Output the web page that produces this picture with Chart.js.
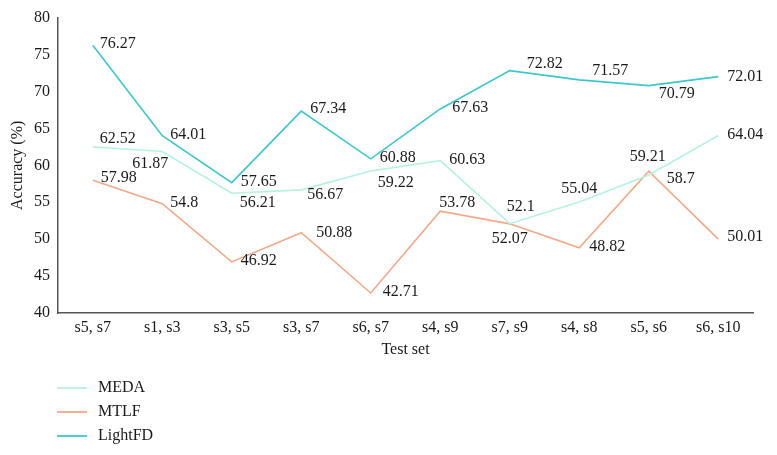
<!DOCTYPE html>
<html>
<head>
<meta charset="utf-8">
<script src="https://cdn.jsdelivr.net/npm/chart.js@4"></script>
<style>
  html, body { margin: 0; padding: 0; background: #fff; }
  #wrap { width: 777px; height: 455px; }
</style>
</head>
<body>
<div id="wrap"><canvas id="accuracyChart"></canvas></div>
<script>
const testSets = ['s5, s7', 's1, s3', 's3, s5', 's3, s7', 's6, s7', 's4, s9', 's7, s9', 's4, s8', 's5, s6', 's6, s10'];
const medaValues = [62.52, 61.87, 56.21, 56.67, 59.22, 60.63, 52.1, 55.04, 58.7, 64.04];
const mtlfValues = [57.98, 54.8, 46.92, 50.88, 42.71, 53.78, 52.07, 48.82, 59.21, 50.01];
const lightfdValues = [76.27, 64.01, 57.65, 67.34, 60.88, 67.63, 72.82, 71.57, 70.79, 72.01];
const yTicks = [40, 45, 50, 55, 60, 65, 70, 75, 80];

// where each value label sits relative to its point (dx to text start, dy to text middle)
const medaLabelShift = [[7,-8],[-30,12],[8,10],[6,5],[7,12],[9,-1],[-3,-17],[-18,-13],[18,4],[9,-1]];
const mtlfLabelShift = [[8,-2],[8,-1],[9,-1],[15,0],[12,-1],[-1,-8],[-18,15],[10,-1],[-19,-14],[9,-2]];
const lightfdLabelShift = [[7,-1],[8,-1],[9,-1],[9,-2],[9,-1],[12,-1],[17,-7],[13,-9],[10,8],[9,0]];

const serif = "'Liberation Serif', 'DejaVu Serif', serif";
const textColor = '#1a1a1a';

const valueLabels = {
    id: 'valueLabels',
    afterDatasetsDraw(chart) {
        const ctx = chart.ctx;
        ctx.save();
        ctx.font = '16px ' + serif;
        ctx.fillStyle = textColor;
        ctx.textAlign = 'left';
        ctx.textBaseline = 'middle';
        chart.data.datasets.forEach((ds, i) => {
            const meta = chart.getDatasetMeta(i);
            meta.data.forEach((pt, j) => {
                const s = ds.labelShift[j];
                ctx.fillText(String(ds.data[j]), pt.x + s[0], pt.y + s[1]);
            });
        });
        ctx.restore();
    }
};

// stacked legend under the plot, left side
const stackedLegend = {
    id: 'stackedLegend',
    afterDraw(chart) {
        const ctx = chart.ctx;
        ctx.save();
        ctx.font = '16px ' + serif;
        ctx.textBaseline = 'middle';
        ctx.textAlign = 'left';
        chart.data.datasets.forEach((ds, i) => {
            const y = 388 + i * 24;
            ctx.strokeStyle = ds.borderColor;
            ctx.lineWidth = 1.8;
            ctx.beginPath();
            ctx.moveTo(57, y);
            ctx.lineTo(87, y);
            ctx.stroke();
            ctx.fillStyle = textColor;
            ctx.fillText(ds.label, 98, y);
        });
        ctx.restore();
    }
};

const ctx = document.getElementById('accuracyChart').getContext('2d');
new Chart(ctx, {
    type: 'line',
    data: {
        labels: testSets,
        datasets: [
            { label: 'MEDA', data: medaValues, borderColor: '#b6f1e1', labelShift: medaLabelShift },
            { label: 'MTLF', data: mtlfValues, borderColor: '#f4a888', labelShift: mtlfLabelShift },
            { label: 'LightFD', data: lightfdValues, borderColor: '#3cc7cf', labelShift: lightfdLabelShift }
        ].map(d => Object.assign(d, { borderWidth: 1.6, pointRadius: 0, tension: 0, fill: false }))
    },
    options: {
        responsive: true,
        maintainAspectRatio: false,
        animation: false,
        layout: { padding: { top: 16, right: 24, bottom: 92, left: 0 } },
        plugins: {
            legend: { display: false },
            tooltip: { enabled: false }
        },
        scales: {
            x: {
                offset: true,
                grid: { display: false, drawTicks: false },
                border: { display: true, color: '#555', width: 1.5 },
                ticks: { color: textColor, font: { family: serif, size: 16 }, padding: 5, maxRotation: 0 },
                title: { display: true, text: 'Test set', color: textColor, font: { family: serif, size: 16 }, padding: { top: 0, bottom: 4 } },
                afterFit(scale) { scale.height = 50; }
            },
            y: {
                min: 40,
                max: 80,
                afterBuildTicks(scale) { scale.ticks = yTicks.map(v => ({ value: v })); },
                grid: { display: false, drawTicks: false },
                border: { display: true, color: '#555', width: 1.5 },
                ticks: { color: textColor, font: { family: serif, size: 16 }, padding: 8 },
                title: { display: true, text: 'Accuracy (%)', color: textColor, font: { family: serif, size: 16 }, padding: { top: 8, bottom: 8 } },
                afterFit(scale) { scale.width = 58; }
            }
        }
    },
    plugins: [valueLabels, stackedLegend]
});
</script>
</body>
</html>
